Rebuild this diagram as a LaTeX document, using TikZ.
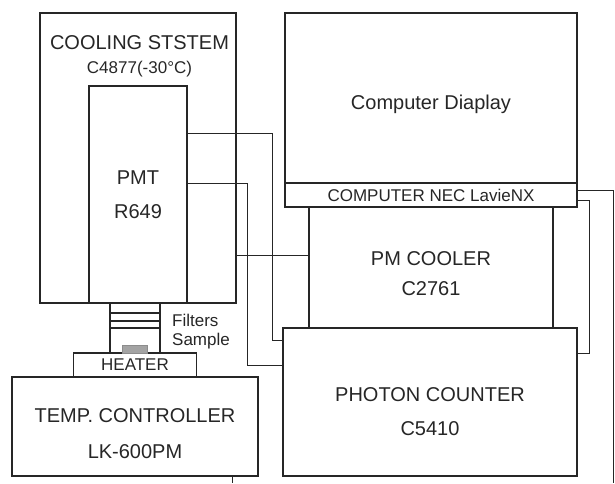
\documentclass[tikz,border=0pt]{standalone}
\usepackage{fontspec}
\setmainfont{Liberation Sans}
\usepackage{tikz}
\usetikzlibrary{positioning,calc}
\definecolor{inkline}{HTML}{262626}
\definecolor{samplegray}{HTML}{8C8C8C}

\begin{document}
\begin{tikzpicture}[x=1pt,y=-1pt,node distance=0pt,
    box/.style={draw=inkline,line width=1.6pt,outer sep=0pt,inner sep=0pt},
    lbl/.style={text=inkline,inner sep=0pt,align=center,font=\fontsize{20}{34}\selectfont},
    smalllbl/.style={lbl,font=\fontsize{17}{20}\selectfont},
    wire/.style={draw=inkline,line width=0.9pt}]
  \useasboundingbox (0,0) rectangle (615,483);
  \node[box,minimum width=196pt,minimum height=290pt] (cool) at (138,158) {};
  \node[lbl,font=\fontsize{20}{24}\selectfont] (cooltitle) at (139.5,43) {COOLING STSTEM};
  \node[smalllbl] (coolmodel) at (139.5,69) {C4877(-30°C)};
  \node[box,minimum width=98pt,minimum height=217pt,anchor=south] (pmt) at (cool.south) {};
  \node[lbl] (pmtlbl) at (pmt.center) {PMT\\R649};

  \node[box,minimum width=292pt,minimum height=170pt] (display) at (431,98) {};
  \node[lbl] (displaylbl) at ([yshift=-6pt]display.center) {Computer Diaplay};
  \node[box,minimum width=292pt,minimum height=24pt,below=of display] (nec) {};
  \node[smalllbl] (neclbl) at (nec.center) {COMPUTER NEC LavieNX};
  \node[box,minimum width=244pt,minimum height=121pt,below=of nec] (pmcool) {};
  \node[lbl,font=\fontsize{20}{30}\selectfont] (pmcoollbl) at ([yshift=-6pt]pmcool.center) {PM COOLER\\C2761};
  \node[box,minimum width=294pt,minimum height=148pt,below=of pmcool,xshift=-1pt] (photon) {};
  \node[lbl] (photonlbl) at ([yshift=-9.5pt]photon.center) {PHOTON COUNTER\\C5410};

  \node[box,minimum width=246pt,minimum height=99pt] (temp) at (135,426.5) {};
  \node[lbl,font=\fontsize{20}{36}\selectfont] (templbl) at ([yshift=-7pt]temp.center) {TEMP. CONTROLLER\\LK-600PM};
  \node[box,minimum width=123pt,minimum height=24pt,above=of temp] (heater) {};
  \node[smalllbl] (heaterlbl) at (heater.center) {HEATER};
  \node[box,minimum width=50pt,minimum height=50pt,above=of heater] (holder) {};
  \foreach \fy in {10,18,25}
    \draw[wire,line width=1.2pt] ([yshift=-\fy pt]holder.north west) -- ([yshift=-\fy pt]holder.north east);
  \node[draw=samplegray,fill=samplegray!80,line width=0.6pt,inner sep=0pt,outer sep=0pt,
    minimum width=25pt,minimum height=8pt,anchor=south] (sample) at (holder.south) {};
  \node[smalllbl,align=left,font=\fontsize{17}{19}\selectfont,right=12pt of holder,yshift=-4pt] (filterlbl) {Filters\\Sample};

  \coordinate (counterinA) at ([yshift=62pt]photon.west);
  \coordinate (counterinB) at ([yshift=37pt]photon.west);
  \coordinate (coolerin) at ([yshift=12.5pt]pmcool.west);
  \coordinate (counterout) at ([yshift=49pt]photon.east);
  \coordinate (pccable) at (613,483);
  \coordinate (tempcable) at (232,483);
  \draw[wire] ([yshift=61.5pt]pmt.east) -- ++(85,0) |- (counterinA);
  \draw[wire] ([yshift=11.5pt]pmt.east) -- ++(60,0) |- (counterinB);
  \draw[wire] (coolerin -| cool.east) -- (coolerin);
  \draw[wire] ([yshift=5pt]nec.east) -| (pccable);
  \draw[wire] ([yshift=-5pt]nec.east) -- ++(12,0) |- (counterout);
  \draw[wire] (temp.south -| tempcable) -- (tempcable);
\end{tikzpicture}
\end{document}
